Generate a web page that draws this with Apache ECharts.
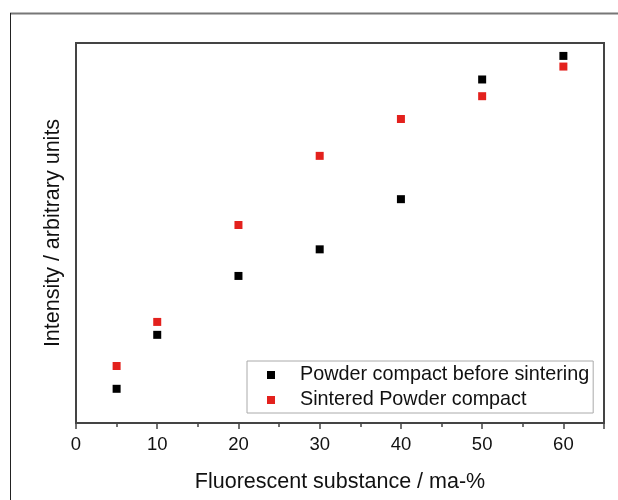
<!DOCTYPE html>
<html lang="en">
<head>
    <meta charset="UTF-8">
    <title>Intensity vs fluorescent substance</title>
    <script src="https://cdn.jsdelivr.net/npm/echarts@6/dist/echarts.min.js"></script>
    <style>
        html, body { margin: 0; padding: 0; background: #fff; }
    </style>
</head>
<body>
    <div id="main" style="width:618px;height:500px;"></div>

    <script>
// data (y is arbitrary units, 0-100 scale)
var content = [5, 10, 20, 30, 40, 50, 60];   // ma-%
var beforeSintering = [9.0, 23.2, 38.7, 45.7, 58.9, 90.4, 96.6];
var sintered = [15.0, 26.6, 52.1, 70.3, 80.0, 86.0, 93.8];
var seriesNames = ['Powder compact before sintering', 'Sintered Powder compact'];

function pairs(xs, ys) {
    return xs.map(function (x, i) { return [x, ys[i]]; });
}

var font = 'Liberation Sans, Arial, sans-serif';
var myChart = echarts.init(document.getElementById('main'));

myChart.setOption({
    animation: false,
    textStyle: { fontFamily: font },
    // outer frame of the figure
    graphic: [
        { type: 'line', shape: { x1: 10, y1: 13.5, x2: 630, y2: 13.5 }, style: { stroke: '#777', lineWidth: 2 } },
        { type: 'line', shape: { x1: 10.5, y1: 13, x2: 10.5, y2: 510 }, style: { stroke: '#222', lineWidth: 1 } }
    ],
    grid: {
        left: 76, top: 43, right: 14, bottom: 77,
        show: true, borderColor: '#444', borderWidth: 2
    },
    legend: {
        orient: 'vertical',
        left: 247, top: 361,
        padding: [4, 4, 3, 20],
        itemWidth: 8, itemHeight: 8,
        itemGap: 5,
        icon: 'rect',
        borderColor: '#aaa', borderWidth: 1,
        textStyle: { fontSize: 19.8, color: '#111', lineHeight: 20, padding: [0, 0, 0, 20], fontFamily: font },
        data: seriesNames
    },
    xAxis: {
        type: 'value',
        min: 0, max: 65, interval: 10,
        name: 'Fluorescent substance / ma-%',
        nameLocation: 'middle',
        nameGap: 48,
        nameTextStyle: { fontSize: 21.5, color: '#111' },
        axisLine: { show: true, lineStyle: { color: '#444', width: 2 } },
        axisTick: { show: true, inside: false, length: 6, lineStyle: { color: '#444', width: 1.5 } },
        minorTick: { show: true, splitNumber: 2, length: 4, lineStyle: { color: '#444', width: 1.5 } },
        axisLabel: { fontSize: 18.5, color: '#111', margin: 12, showMaxLabel: false },
        splitLine: { show: false }
    },
    yAxis: {
        type: 'value',
        min: 0, max: 100,
        name: 'Intensity / arbitrary units',
        nameLocation: 'middle',
        nameGap: 12,
        nameTextStyle: { fontSize: 21.5, color: '#111' },
        axisLine: { show: true, lineStyle: { color: '#444', width: 2 } },
        axisTick: { show: false },
        axisLabel: { show: false },
        splitLine: { show: false }
    },
    series: [
        {
            name: seriesNames[0],
            type: 'scatter',
            symbol: 'rect',
            symbolSize: 8,
            itemStyle: { color: '#000', opacity: 1 },
            data: pairs(content, beforeSintering)
        },
        {
            name: seriesNames[1],
            type: 'scatter',
            symbol: 'rect',
            symbolSize: 8,
            itemStyle: { color: '#e3211d', opacity: 1 },
            data: pairs(content, sintered)
        }
    ]
});
    </script>
</body>
</html>
